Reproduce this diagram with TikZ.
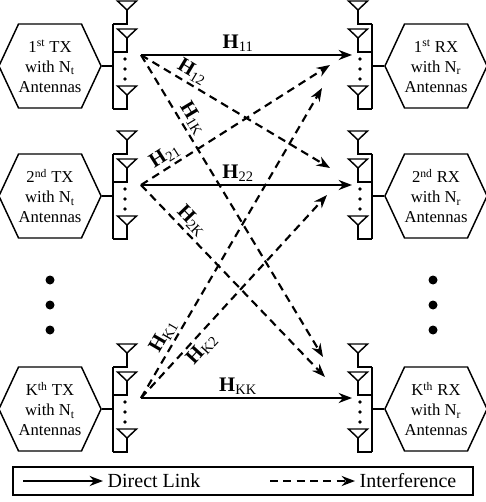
\documentclass[tikz,border=0pt]{standalone}
\usepackage{fontspec}
\setmainfont{Liberation Serif}
\usetikzlibrary{arrows.meta, positioning, shapes.symbols}

\tikzset{
  antenna/.pic={
    \draw (-9.5,0) -- (9.5,0) -- (0,9) -- cycle;
    \draw (0,9) -- (0,23) -- (-14,23);
  }
}

\begin{document}
\begin{tikzpicture}[x=0.75pt, y=-0.75pt, line width=1.1pt,
  terminal/.style={draw, shape=signal, signal to=east and west, signal pointer angle=130,
    minimum width=72pt, minimum height=63pt, inner sep=0pt, align=center,
    font=\fontsize{12.5}{15}\selectfont},
  link/.style={line width=1.6pt, -{Stealth[length=10pt, width=7.5pt]}},
  interf/.style={link, dash pattern=on 6pt off 4pt},
  gain/.style={font=\fontsize{15.5}{18}\selectfont, inner sep=2pt},
  legendtext/.style={font=\fontsize{15}{18}\selectfont, inner sep=3pt}
]
  \useasboundingbox (0,0) rectangle (485,502);

  % Transmitters and receivers, one row per user
  \foreach \c/\k/\ord in {66/1/st, 196/2/nd, 409/K/th} {
    % TX side
    \node[terminal] (tx\k) at (50,\c) {\k\textsuperscript{\ord} TX\\with N\textsubscript{t}\\Antennas};
    \draw (113,\c-42) -- (113,\c+43);
    \pic at (127,\c-65) {antenna};
    \pic at (127,\c-37) {antenna};
    \pic at (127,\c+20) {antenna};
    \foreach \d in {-7,3,13} \fill (125,\c+\d) circle (1.8);
    \draw (tx\k.east) -- (113,\c);
    % RX side
    \node[terminal] (rx\k) at (436,\c) {\k\textsuperscript{\ord} RX\\with N\textsubscript{r}\\Antennas};
    \draw (372,\c-42) -- (372,\c+43);
    \pic[xscale=-1] at (358,\c-65) {antenna};
    \pic[xscale=-1] at (358,\c-37) {antenna};
    \pic[xscale=-1] at (358,\c+20) {antenna};
    \foreach \d in {-7,3,13} \fill (360,\c+\d) circle (1.8);
    \draw (372,\c) -- (rx\k.west);
    % ports
    \coordinate (out\k) at (141,\c-11);
    \coordinate (in\k) at (352,\c-11);
  }

  % Vertical ellipsis between rows
  \foreach \y in {280,305,330} {
    \fill (50,\y) circle (4.5);
    \fill (433,\y) circle (4.5);
  }

  % Direct links
  \draw[link] (out1) -- node[gain, above, pos=0.46] {\textbf{H}\textsubscript{11}} (in1);
  \draw[link] (out2) -- node[gain, above, pos=0.46] {\textbf{H}\textsubscript{22}} (in2);
  \draw[link] (outK) -- node[gain, above, pos=0.46] {\textbf{H}\textsubscript{KK}} (inK);

  % Interference ends
  \coordinate (in1a) at (330,65);
  \coordinate (in1b) at (322,88);
  \coordinate (in2a) at (330,168);
  \coordinate (in2b) at (327,195);
  \coordinate (inKa) at (323,357);
  \coordinate (inKb) at (325,377);

  % Interference links
  \draw[interf] (out1) -- node[gain, sloped, above, pos=0.24] {\textbf{H}\textsubscript{12}} (in2a);
  \draw[interf] (out1) -- node[gain, sloped, above, pos=0.23] {\textbf{H}\textsubscript{1K}} (inKa);
  \draw[interf] (out2) -- node[gain, sloped, above, pos=0.16] {\textbf{H}\textsubscript{21}} (in1a);
  \draw[interf] (out2) -- node[gain, sloped, above, pos=0.23] {\textbf{H}\textsubscript{2K}} (inKb);
  \draw[interf] (outK) -- node[gain, sloped, above, pos=0.18] {\textbf{H}\textsubscript{K1}} (in1b);
  \draw[interf] (outK) -- node[gain, sloped, below, pos=0.28] {\textbf{H}\textsubscript{K2}} (in2b);

  % Legend
  \node[draw, minimum width=345pt, minimum height=21pt] (legend) at (243,481) {};
  \coordinate (dlstart) at (23,481);
  \node[legendtext, anchor=west] (dl) at (103,481) {Direct Link};
  \draw[link] (dlstart) -- (dl.west);
  \coordinate (ifstart) at (270,481);
  \node[legendtext, anchor=west] (if) at (355,481) {Interference};
  \draw[interf] (ifstart) -- (if.west);
\end{tikzpicture}
\end{document}
